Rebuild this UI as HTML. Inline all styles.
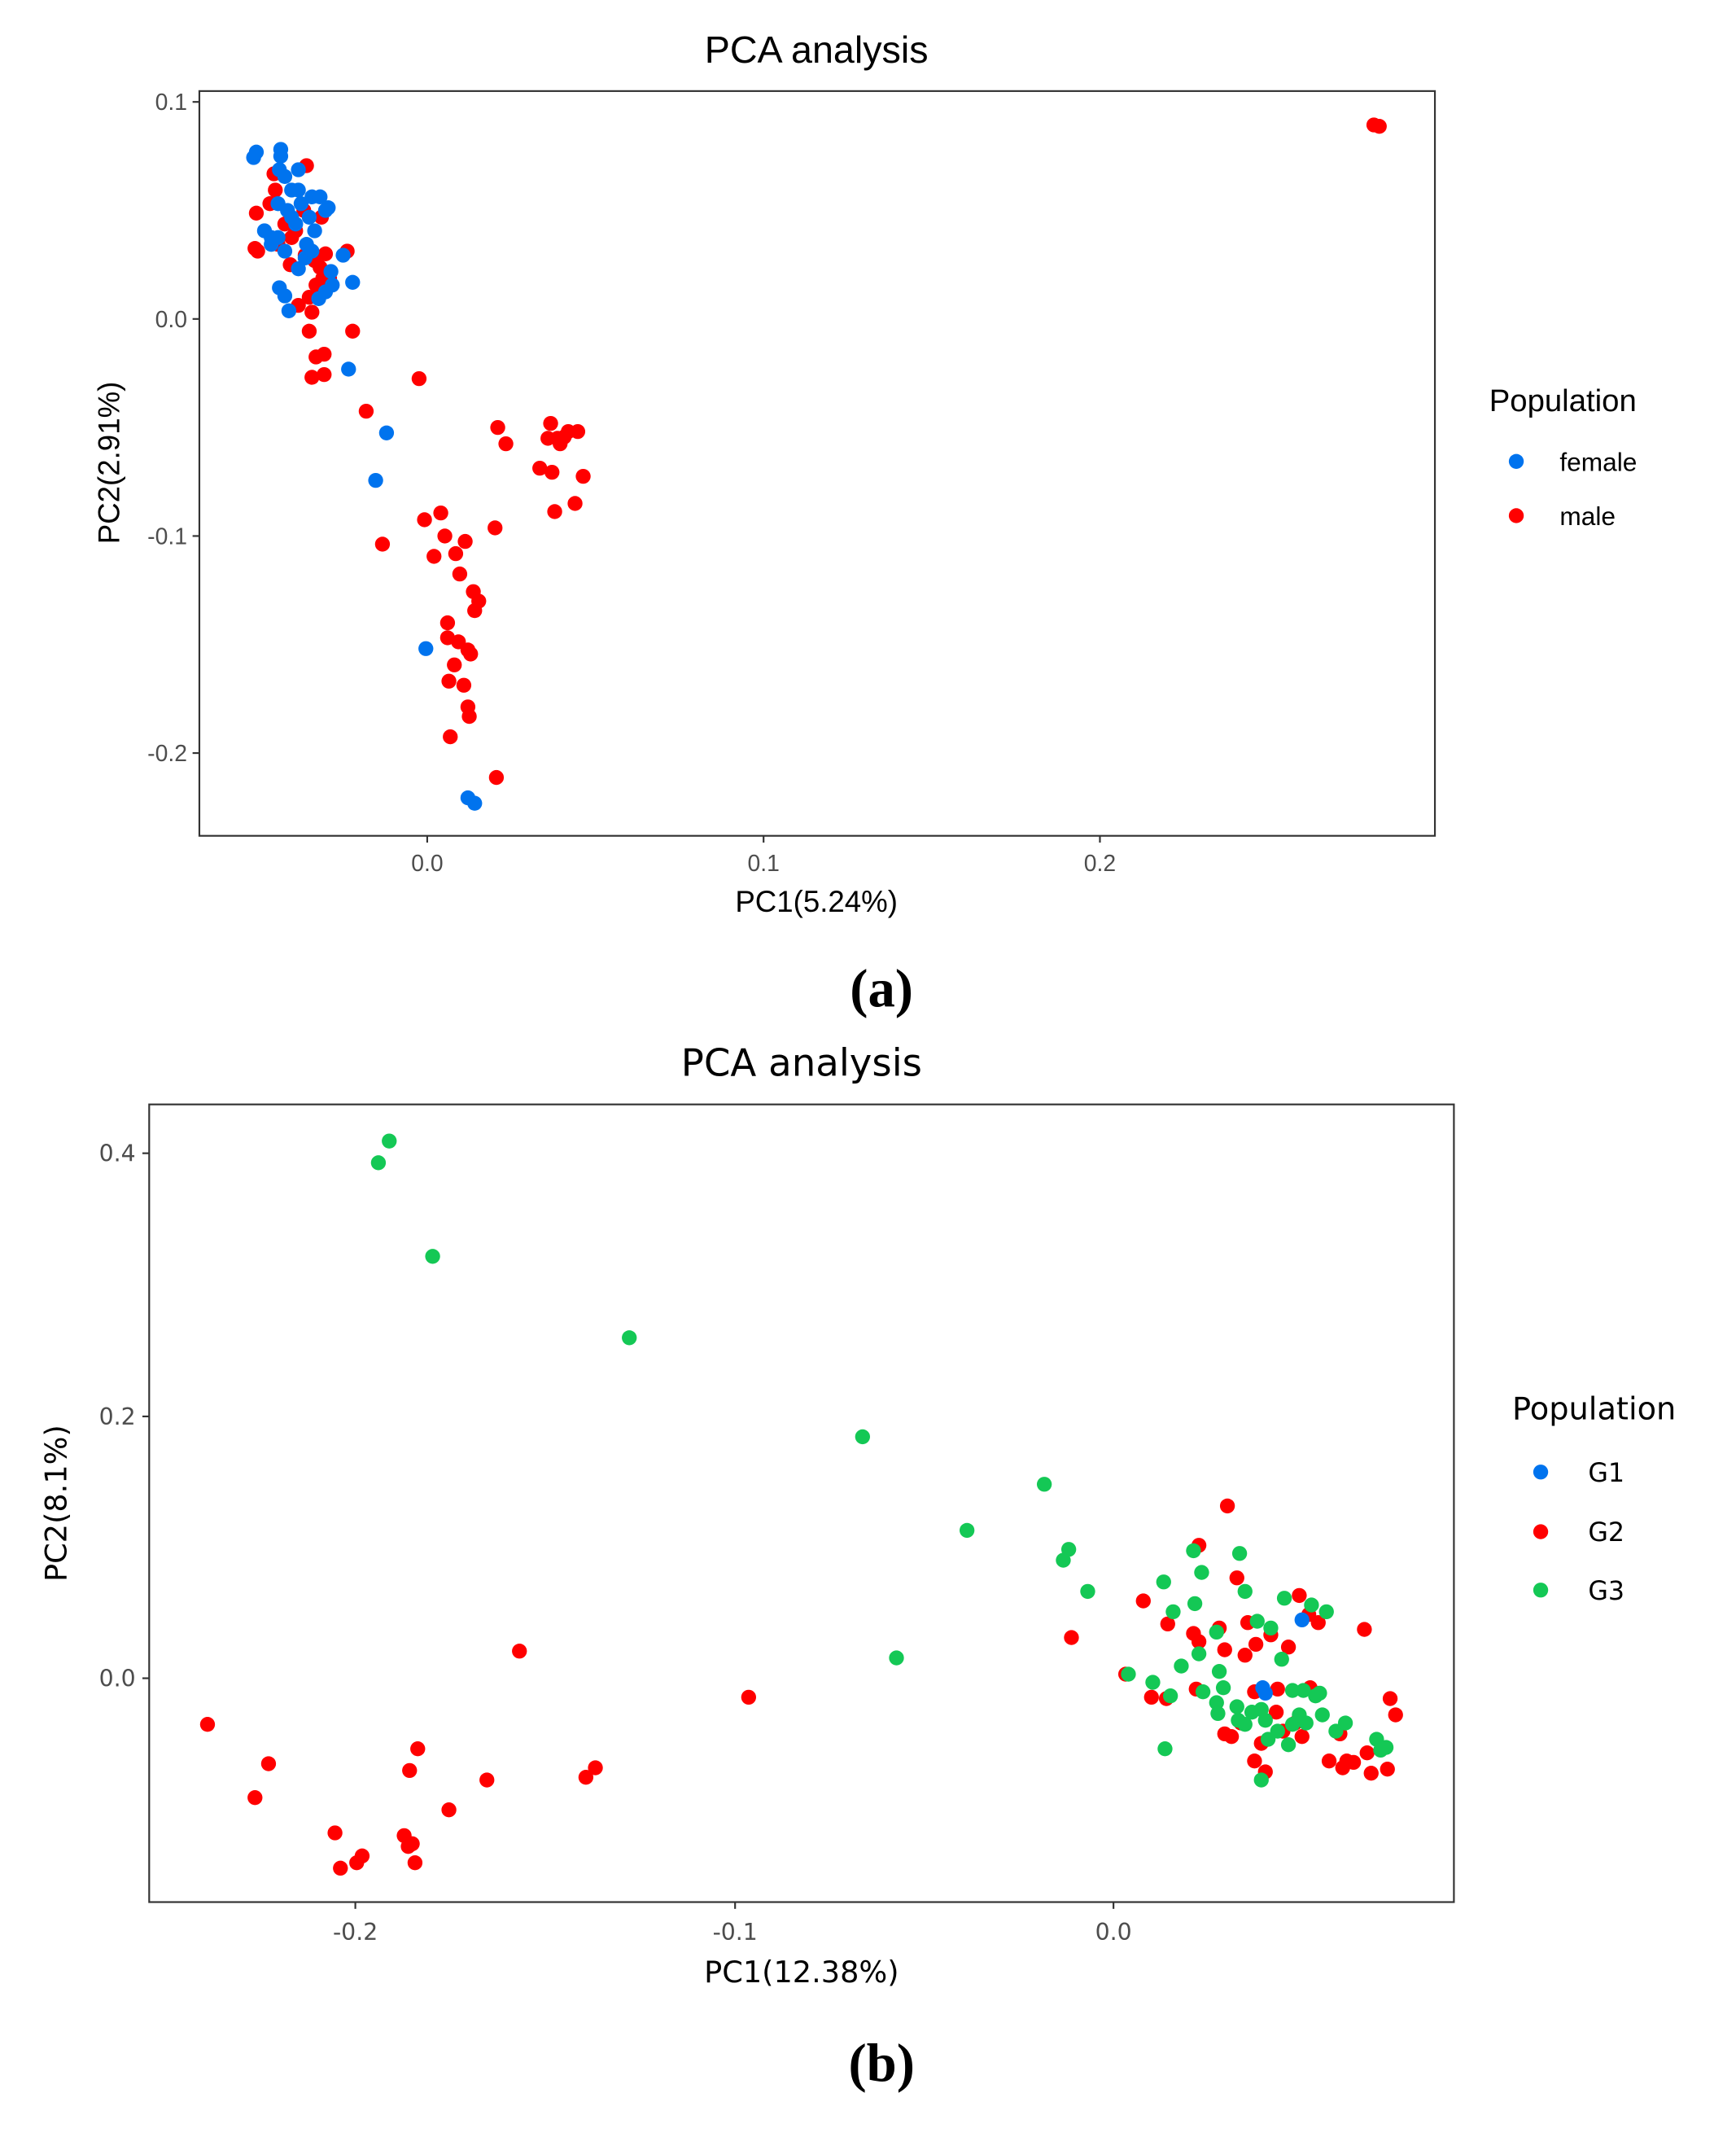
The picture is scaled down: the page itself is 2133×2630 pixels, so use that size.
<!DOCTYPE html>
<html><head><meta charset="utf-8"><style>html,body{margin:0;padding:0;background:#fff}svg{display:block}</style></head>
<body>
<svg width="2133" height="2630" viewBox="0 0 1280 1578" xmlns="http://www.w3.org/2000/svg">
<rect width="1280" height="1578" fill="#fff"/>
<!-- Panel a -->
<g font-family="Liberation Sans, DejaVu Sans, sans-serif">
<text x="602" y="46" font-size="28" text-anchor="middle">PCA analysis</text>
<rect x="147" y="67" width="911" height="549" fill="none" stroke="#333" stroke-width="1.3"/>
<g stroke="#333" stroke-width="1.3">
<line x1="142" y1="75" x2="147" y2="75"/><line x1="142" y1="235" x2="147" y2="235"/><line x1="142" y1="395" x2="147" y2="395"/><line x1="142" y1="555" x2="147" y2="555"/>
<line x1="315" y1="616" x2="315" y2="621"/><line x1="563" y1="616" x2="563" y2="621"/><line x1="811" y1="616" x2="811" y2="621"/>
</g>
<g font-size="17" fill="#4d4d4d" text-anchor="end">
<text x="138" y="81">0.1</text><text x="138" y="241">0.0</text><text x="138" y="401">-0.1</text><text x="138" y="561">-0.2</text>
</g>
<g font-size="17" fill="#4d4d4d" text-anchor="middle">
<text x="315" y="642">0.0</text><text x="563" y="642">0.1</text><text x="811" y="642">0.2</text>
</g>
<text x="602" y="672" font-size="22" text-anchor="middle">PC1(5.24%)</text>
<text transform="translate(88,341) rotate(-90)" font-size="22" text-anchor="middle">PC2(2.91%)</text>
<text x="1098" y="303" font-size="23">Population</text>
<circle cx="1118" cy="340" r="5.5" fill="#0073ee"/><text x="1150" y="347" font-size="19">female</text>
<circle cx="1118" cy="380" r="5.5" fill="#f00"/><text x="1150" y="387" font-size="19">male</text>
</g>
<g fill="#f00">
<circle cx="1013" cy="92" r="5.5"/><circle cx="1017" cy="93" r="5.5"/><circle cx="189" cy="157" r="5.5"/><circle cx="190" cy="185" r="5.5"/><circle cx="188" cy="183" r="5.5"/><circle cx="226" cy="122" r="5.5"/><circle cx="203" cy="140" r="5.5"/><circle cx="199" cy="150" r="5.5"/><circle cx="210" cy="165" r="5.5"/><circle cx="218" cy="170" r="5.5"/><circle cx="215" cy="175" r="5.5"/><circle cx="225" cy="188" r="5.5"/><circle cx="232" cy="192" r="5.5"/><circle cx="238" cy="205" r="5.5"/><circle cx="233" cy="210" r="5.5"/><circle cx="228" cy="219" r="5.5"/><circle cx="230" cy="230" r="5.5"/><circle cx="220" cy="225" r="5.5"/><circle cx="236" cy="197" r="5.5"/><circle cx="243" cy="205" r="5.5"/><circle cx="256" cy="185" r="5.5"/><circle cx="240" cy="187" r="5.5"/><circle cx="228" cy="244" r="5.5"/><circle cx="260" cy="244" r="5.5"/><circle cx="233" cy="263" r="5.5"/><circle cx="239" cy="261" r="5.5"/><circle cx="230" cy="278" r="5.5"/><circle cx="239" cy="276" r="5.5"/><circle cx="270" cy="303" r="5.5"/><circle cx="309" cy="279" r="5.5"/><circle cx="282" cy="401" r="5.5"/><circle cx="367" cy="315" r="5.5"/><circle cx="373" cy="327" r="5.5"/><circle cx="406" cy="312" r="5.5"/><circle cx="404" cy="323" r="5.5"/><circle cx="411" cy="323" r="5.5"/><circle cx="416" cy="322" r="5.5"/><circle cx="413" cy="327" r="5.5"/><circle cx="426" cy="318" r="5.5"/><circle cx="419" cy="318" r="5.5"/><circle cx="398" cy="345" r="5.5"/><circle cx="407" cy="348" r="5.5"/><circle cx="430" cy="351" r="5.5"/><circle cx="409" cy="377" r="5.5"/><circle cx="424" cy="371" r="5.5"/><circle cx="313" cy="383" r="5.5"/><circle cx="325" cy="378" r="5.5"/><circle cx="328" cy="395" r="5.5"/><circle cx="320" cy="410" r="5.5"/><circle cx="336" cy="408" r="5.5"/><circle cx="343" cy="399" r="5.5"/><circle cx="365" cy="389" r="5.5"/><circle cx="339" cy="423" r="5.5"/><circle cx="349" cy="436" r="5.5"/><circle cx="353" cy="443" r="5.5"/><circle cx="350" cy="450" r="5.5"/><circle cx="330" cy="459" r="5.5"/><circle cx="330" cy="470" r="5.5"/><circle cx="338" cy="473" r="5.5"/><circle cx="345" cy="479" r="5.5"/><circle cx="335" cy="490" r="5.5"/><circle cx="347" cy="482" r="5.5"/><circle cx="331" cy="502" r="5.5"/><circle cx="342" cy="505" r="5.5"/><circle cx="345" cy="521" r="5.5"/><circle cx="346" cy="528" r="5.5"/><circle cx="332" cy="543" r="5.5"/><circle cx="366" cy="573" r="5.5"/><circle cx="237" cy="160" r="5.5"/><circle cx="224" cy="155" r="5.5"/><circle cx="214" cy="195" r="5.5"/><circle cx="205" cy="180" r="5.5"/><circle cx="202" cy="128" r="5.5"/>
</g>
<g fill="#0073ee">
<circle cx="187" cy="116" r="5.5"/><circle cx="189" cy="112" r="5.5"/><circle cx="207" cy="110" r="5.5"/><circle cx="207" cy="115" r="5.5"/><circle cx="206" cy="125" r="5.5"/><circle cx="210" cy="130" r="5.5"/><circle cx="220" cy="125" r="5.5"/><circle cx="215" cy="140" r="5.5"/><circle cx="222" cy="150" r="5.5"/><circle cx="205" cy="150" r="5.5"/><circle cx="215" cy="160" r="5.5"/><circle cx="205" cy="175" r="5.5"/><circle cx="200" cy="180" r="5.5"/><circle cx="195" cy="170" r="5.5"/><circle cx="210" cy="185" r="5.5"/><circle cx="225" cy="190" r="5.5"/><circle cx="220" cy="198" r="5.5"/><circle cx="240" cy="215" r="5.5"/><circle cx="235" cy="220" r="5.5"/><circle cx="206" cy="212" r="5.5"/><circle cx="210" cy="218" r="5.5"/><circle cx="213" cy="229" r="5.5"/><circle cx="244" cy="200" r="5.5"/><circle cx="245" cy="210" r="5.5"/><circle cx="260" cy="208" r="5.5"/><circle cx="253" cy="188" r="5.5"/><circle cx="242" cy="153" r="5.5"/><circle cx="230" cy="145" r="5.5"/><circle cx="236" cy="145" r="5.5"/><circle cx="228" cy="160" r="5.5"/><circle cx="232" cy="170" r="5.5"/><circle cx="218" cy="165" r="5.5"/><circle cx="212" cy="155" r="5.5"/><circle cx="226" cy="180" r="5.5"/><circle cx="230" cy="185" r="5.5"/><circle cx="257" cy="272" r="5.5"/><circle cx="285" cy="319" r="5.5"/><circle cx="277" cy="354" r="5.5"/><circle cx="314" cy="478" r="5.5"/><circle cx="345" cy="588" r="5.5"/><circle cx="350" cy="592" r="5.5"/><circle cx="240" cy="155" r="5.5"/><circle cx="200" cy="175" r="5.5"/><circle cx="220" cy="140" r="5.5"/>
</g>
<text x="650" y="742" font-family="Liberation Serif, serif" font-size="40" font-weight="bold" text-anchor="middle">(a)</text>

<!-- Panel b -->
<g font-family="DejaVu Sans, Liberation Sans, sans-serif">
<text x="591" y="793" font-size="28" text-anchor="middle">PCA analysis</text>
<rect x="110" y="814" width="962" height="588" fill="none" stroke="#333" stroke-width="1.3"/>
<g stroke="#333" stroke-width="1.3">
<line x1="105" y1="850" x2="110" y2="850"/><line x1="105" y1="1044" x2="110" y2="1044"/><line x1="105" y1="1237" x2="110" y2="1237"/>
<line x1="262" y1="1402" x2="262" y2="1407"/><line x1="542" y1="1402" x2="542" y2="1407"/><line x1="821" y1="1402" x2="821" y2="1407"/>
</g>
<g font-size="17" fill="#4d4d4d" text-anchor="end">
<text x="100" y="856">0.4</text><text x="100" y="1050">0.2</text><text x="100" y="1243">0.0</text>
</g>
<g font-size="17" fill="#4d4d4d" text-anchor="middle">
<text x="262" y="1430">-0.2</text><text x="542" y="1430">-0.1</text><text x="821" y="1430">0.0</text>
</g>
<text x="591" y="1461" font-size="22" text-anchor="middle">PC1(12.38%)</text>
<text transform="translate(49,1108) rotate(-90)" font-size="22" text-anchor="middle">PC2(8.1%)</text>
<text x="1115" y="1046" font-size="23">Population</text>
<circle cx="1136" cy="1085" r="5.5" fill="#0073ee"/><text x="1171" y="1092" font-size="19">G1</text>
<circle cx="1136" cy="1129" r="5.5" fill="#f00"/><text x="1171" y="1136" font-size="19">G2</text>
<circle cx="1136" cy="1172" r="5.5" fill="#14c855"/><text x="1171" y="1179" font-size="19">G3</text>
</g>
<g fill="#f00">
<circle cx="153" cy="1271" r="5.5"/><circle cx="198" cy="1300" r="5.5"/><circle cx="188" cy="1325" r="5.5"/><circle cx="247" cy="1351" r="5.5"/><circle cx="251" cy="1377" r="5.5"/><circle cx="263" cy="1373" r="5.5"/><circle cx="267" cy="1368" r="5.5"/><circle cx="298" cy="1353" r="5.5"/><circle cx="301" cy="1361" r="5.5"/><circle cx="304" cy="1359" r="5.5"/><circle cx="306" cy="1373" r="5.5"/><circle cx="302" cy="1305" r="5.5"/><circle cx="308" cy="1289" r="5.5"/><circle cx="331" cy="1334" r="5.5"/><circle cx="359" cy="1312" r="5.5"/><circle cx="383" cy="1217" r="5.5"/><circle cx="432" cy="1310" r="5.5"/><circle cx="439" cy="1303" r="5.5"/><circle cx="552" cy="1251" r="5.5"/><circle cx="790" cy="1207" r="5.5"/><circle cx="905" cy="1110" r="5.5"/><circle cx="884" cy="1139" r="5.5"/><circle cx="843" cy="1180" r="5.5"/><circle cx="861" cy="1197" r="5.5"/><circle cx="880" cy="1204" r="5.5"/><circle cx="912" cy="1163" r="5.5"/><circle cx="860" cy="1252" r="5.5"/><circle cx="849" cy="1251" r="5.5"/><circle cx="884" cy="1210" r="5.5"/><circle cx="899" cy="1200" r="5.5"/><circle cx="903" cy="1216" r="5.5"/><circle cx="918" cy="1220" r="5.5"/><circle cx="920" cy="1196" r="5.5"/><circle cx="926" cy="1212" r="5.5"/><circle cx="937" cy="1205" r="5.5"/><circle cx="950" cy="1214" r="5.5"/><circle cx="958" cy="1176" r="5.5"/><circle cx="965" cy="1190" r="5.5"/><circle cx="972" cy="1196" r="5.5"/><circle cx="1006" cy="1201" r="5.5"/><circle cx="830" cy="1234" r="5.5"/><circle cx="882" cy="1245" r="5.5"/><circle cx="925" cy="1247" r="5.5"/><circle cx="941" cy="1262" r="5.5"/><circle cx="946" cy="1276" r="5.5"/><circle cx="930" cy="1285" r="5.5"/><circle cx="908" cy="1280" r="5.5"/><circle cx="903" cy="1278" r="5.5"/><circle cx="915" cy="1270" r="5.5"/><circle cx="960" cy="1280" r="5.5"/><circle cx="925" cy="1298" r="5.5"/><circle cx="933" cy="1306" r="5.5"/><circle cx="980" cy="1298" r="5.5"/><circle cx="990" cy="1303" r="5.5"/><circle cx="993" cy="1298" r="5.5"/><circle cx="998" cy="1299" r="5.5"/><circle cx="1011" cy="1307" r="5.5"/><circle cx="1023" cy="1304" r="5.5"/><circle cx="1008" cy="1292" r="5.5"/><circle cx="1025" cy="1252" r="5.5"/><circle cx="1029" cy="1264" r="5.5"/><circle cx="955" cy="1270" r="5.5"/><circle cx="988" cy="1278" r="5.5"/><circle cx="942" cy="1245" r="5.5"/><circle cx="966" cy="1244" r="5.5"/>
</g>
<g fill="#14c855">
<circle cx="279" cy="857" r="5.5"/><circle cx="287" cy="841" r="5.5"/><circle cx="319" cy="926" r="5.5"/><circle cx="464" cy="986" r="5.5"/><circle cx="636" cy="1059" r="5.5"/><circle cx="661" cy="1222" r="5.5"/><circle cx="713" cy="1128" r="5.5"/><circle cx="770" cy="1094" r="5.5"/><circle cx="788" cy="1142" r="5.5"/><circle cx="784" cy="1150" r="5.5"/><circle cx="802" cy="1173" r="5.5"/><circle cx="832" cy="1234" r="5.5"/><circle cx="850" cy="1240" r="5.5"/><circle cx="863" cy="1250" r="5.5"/><circle cx="859" cy="1289" r="5.5"/><circle cx="880" cy="1143" r="5.5"/><circle cx="886" cy="1159" r="5.5"/><circle cx="865" cy="1188" r="5.5"/><circle cx="858" cy="1166" r="5.5"/><circle cx="881" cy="1182" r="5.5"/><circle cx="897" cy="1203" r="5.5"/><circle cx="914" cy="1145" r="5.5"/><circle cx="918" cy="1173" r="5.5"/><circle cx="927" cy="1195" r="5.5"/><circle cx="947" cy="1178" r="5.5"/><circle cx="967" cy="1183" r="5.5"/><circle cx="978" cy="1188" r="5.5"/><circle cx="945" cy="1223" r="5.5"/><circle cx="937" cy="1200" r="5.5"/><circle cx="871" cy="1228" r="5.5"/><circle cx="884" cy="1219" r="5.5"/><circle cx="887" cy="1247" r="5.5"/><circle cx="897" cy="1255" r="5.5"/><circle cx="902" cy="1244" r="5.5"/><circle cx="913" cy="1268" r="5.5"/><circle cx="918" cy="1271" r="5.5"/><circle cx="923" cy="1262" r="5.5"/><circle cx="930" cy="1260" r="5.5"/><circle cx="933" cy="1268" r="5.5"/><circle cx="935" cy="1282" r="5.5"/><circle cx="942" cy="1276" r="5.5"/><circle cx="950" cy="1286" r="5.5"/><circle cx="953" cy="1271" r="5.5"/><circle cx="958" cy="1264" r="5.5"/><circle cx="963" cy="1270" r="5.5"/><circle cx="961" cy="1246" r="5.5"/><circle cx="970" cy="1250" r="5.5"/><circle cx="975" cy="1264" r="5.5"/><circle cx="985" cy="1276" r="5.5"/><circle cx="1015" cy="1282" r="5.5"/><circle cx="1018" cy="1290" r="5.5"/><circle cx="1022" cy="1288" r="5.5"/><circle cx="930" cy="1312" r="5.5"/><circle cx="912" cy="1258" r="5.5"/><circle cx="898" cy="1263" r="5.5"/><circle cx="899" cy="1232" r="5.5"/><circle cx="953" cy="1246" r="5.5"/><circle cx="973" cy="1248" r="5.5"/><circle cx="992" cy="1270" r="5.5"/>
</g>
<g fill="#0073ee">
<circle cx="931" cy="1244" r="5.5"/><circle cx="933" cy="1248" r="5.5"/><circle cx="960" cy="1194" r="5.5"/>
</g>
<text x="650" y="1534" font-family="Liberation Serif, serif" font-size="40" font-weight="bold" text-anchor="middle">(b)</text>
</svg>
</body></html>
